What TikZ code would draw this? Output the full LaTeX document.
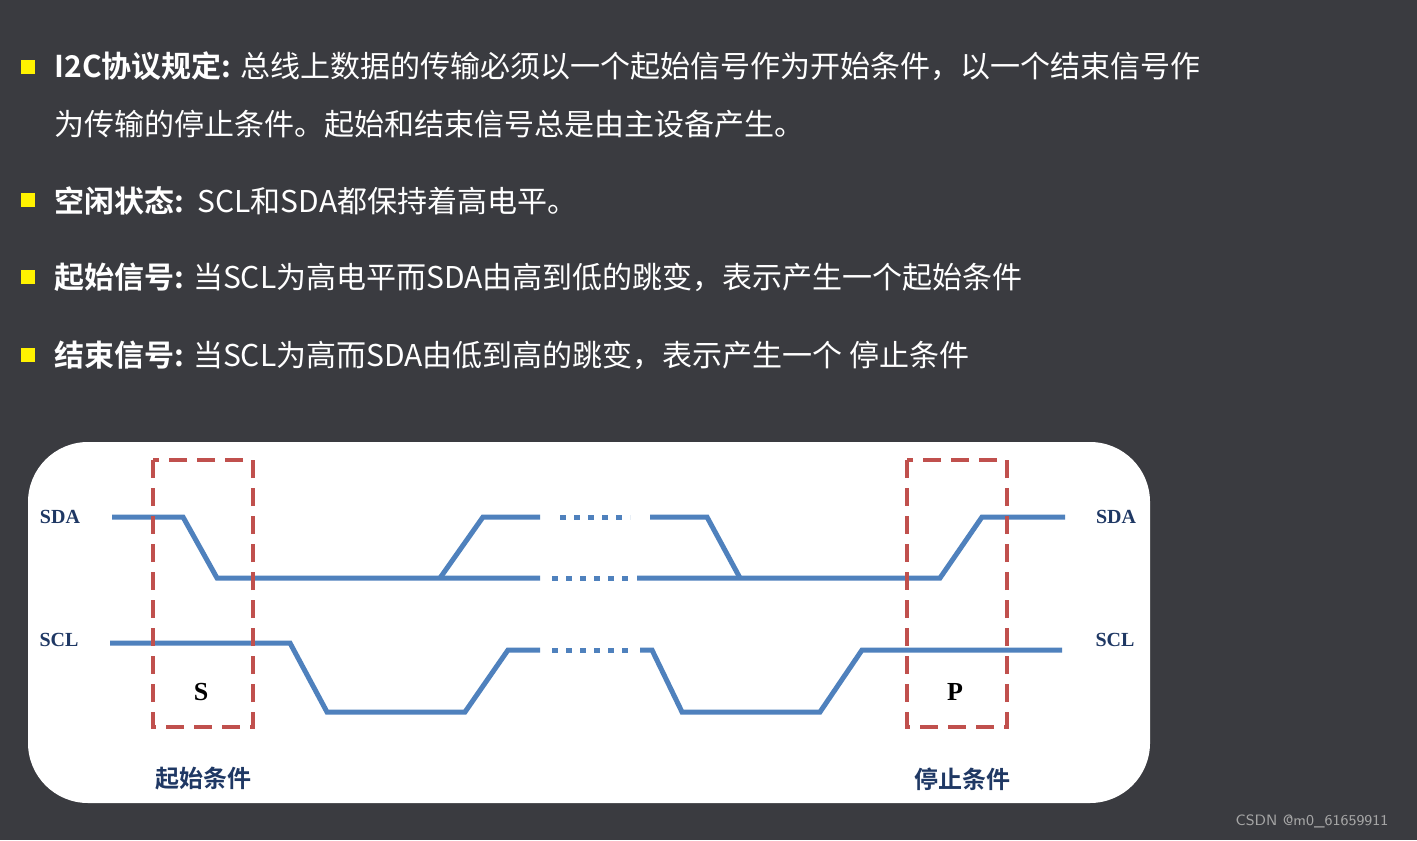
\documentclass[tikz,border=0pt]{standalone}
\usepackage{fontspec}
\setmainfont{Liberation Serif}
\newfontfamily\cjk{Noto Sans CJK SC}
\newfontfamily\cjkb{Noto Sans CJK SC Bold}
\definecolor{bg}{HTML}{3A3B40}
\definecolor{wave}{HTML}{4F81BD}
\definecolor{dred}{HTML}{C0504D}
\definecolor{lbl}{HTML}{1F3864}
\begin{document}
\begin{tikzpicture}[x=0.5pt,y=-0.5pt,
  txt/.style={anchor=west,text=white,inner sep=0,font=\cjk\fontsize{15}{18}\selectfont},
  bul/.style={fill=yellow,minimum size=7pt,inner sep=0},
  wv/.style={draw=wave,line width=2.5pt},
  dotl/.style={draw=wave,line width=2.5pt,dash pattern=on 3pt off 4pt},
  redbox/.style={draw=dred,line width=2pt,dash pattern=on 9pt off 5pt},
  sig/.style={text=lbl,font=\bfseries\fontsize{10}{12}\selectfont,inner sep=0},
  captext/.style={text=lbl,font=\cjkb\fontsize{12}{14}\selectfont,inner sep=0}]
\fill[bg] (0,0) rectangle (1417,840);
\useasboundingbox (0,0) rectangle (1417,840);
\node[bul] (b1) at (28,67) {};
\node[bul] (b2) at (28,200) {};
\node[bul] (b3) at (28,277) {};
\node[bul] (b4) at (28,355) {};
\node[txt] (t1) at (54,66) {{\cjkb I2C协议规定:} 总线上数据的传输必须以一个起始信号作为开始条件，以一个结束信号作};
\node[txt] (t1b) at (54,124) {为传输的停止条件。起始和结束信号总是由主设备产生。};
\node[txt] (t2) at (54,201) {{\cjkb 空闲状态:}\ \ SCL和SDA都保持着高电平。};
\node[txt] (t3) at (54,277) {{\cjkb 起始信号:} 当SCL为高电平而SDA由高到低的跳变，表示产生一个起始条件};
\node[txt] (t4) at (54,355) {{\cjkb 结束信号:} 当SCL为高而SDA由低到高的跳变，表示产生一个 停止条件};
\fill[white,rounded corners=30pt] (28,442) rectangle (1150,803);
% SDA
\draw[wv] (112,517) -- (183,517) -- (217,578) -- (540,578);
\draw[wv] (440,578) -- (483,517) -- (540,517);
\draw[dotl] (560,517) -- (630,517);
\draw[dotl] (552,578) -- (630,578);
\draw[wv] (650,517) -- (707,517) -- (740,578);
\draw[wv] (637,578) -- (940,578) -- (982,517) -- (1065,517);
% SCL
\draw[wv] (110,643) -- (290,643) -- (327,712) -- (465,712) -- (508,650) -- (540,650);
\draw[dotl] (552,650) -- (630,650);
\draw[wv] (640,650) -- (652,650) -- (682,712) -- (820,712) -- (862,650) -- (1062,650);
% boxes
\draw[redbox] (153,460) rectangle (253,727);
\draw[redbox] (907,460) rectangle (1007,727);
\node[sig] (sdal) at (60,517) {SDA};
\node[sig] (scll) at (59,640) {SCL};
\node[sig] (sdar) at (1116,517) {SDA};
\node[sig] (sclr) at (1115,640) {SCL};
\node[sig,text=black,font=\bfseries\fontsize{13}{15}\selectfont] (S) at (201,692) {S};
\node[sig,text=black,font=\bfseries\fontsize{13}{15}\selectfont] (P) at (955,692) {P};
\node[captext] (c1) at (203,779) {起始条件};
\node[captext] (c2) at (962,779) {停止条件};
\node[text=gray!70,font=\sffamily\fontsize{7.5}{9}\selectfont,inner sep=0] (wm) at (1312,821) {CSDN @m0\_61659911};
\end{tikzpicture}
\end{document}
